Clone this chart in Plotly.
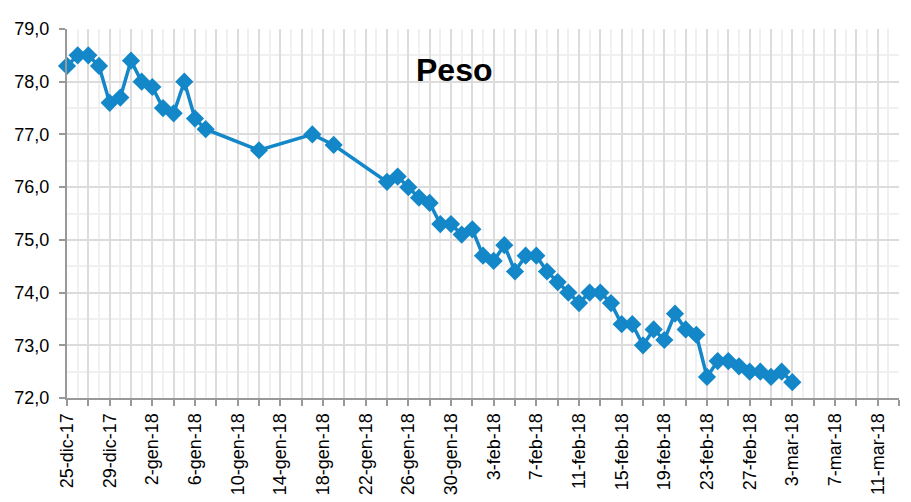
import plotly.graph_objects as go

dates = [
    "2017-12-25", "2017-12-26", "2017-12-27", "2017-12-28", "2017-12-29", "2017-12-30",
    "2017-12-31", "2018-01-01", "2018-01-02", "2018-01-03", "2018-01-04", "2018-01-05",
    "2018-01-06", "2018-01-07", "2018-01-12", "2018-01-17", "2018-01-19", "2018-01-24",
    "2018-01-25", "2018-01-26", "2018-01-27", "2018-01-28", "2018-01-29", "2018-01-30",
    "2018-01-31", "2018-02-01", "2018-02-02", "2018-02-03", "2018-02-04", "2018-02-05",
    "2018-02-06", "2018-02-07", "2018-02-08", "2018-02-09", "2018-02-10", "2018-02-11",
    "2018-02-12", "2018-02-13", "2018-02-14", "2018-02-15", "2018-02-16", "2018-02-17",
    "2018-02-18", "2018-02-19", "2018-02-20", "2018-02-21", "2018-02-22", "2018-02-23",
    "2018-02-24", "2018-02-25", "2018-02-26", "2018-02-27", "2018-02-28", "2018-03-01",
    "2018-03-02", "2018-03-03",
]
peso = [
    78.3, 78.5, 78.5, 78.3, 77.6, 77.7,
    78.4, 78.0, 77.9, 77.5, 77.4, 78.0,
    77.3, 77.1, 76.7, 77.0, 76.8, 76.1,
    76.2, 76.0, 75.8, 75.7, 75.3, 75.3,
    75.1, 75.2, 74.7, 74.6, 74.9, 74.4,
    74.7, 74.7, 74.4, 74.2, 74.0, 73.8,
    74.0, 74.0, 73.8, 73.4, 73.4, 73.0,
    73.3, 73.1, 73.6, 73.3, 73.2, 72.4,
    72.7, 72.7, 72.6, 72.5, 72.5, 72.4,
    72.5, 72.3,
]

tick_dates = [
    "2017-12-25", "2017-12-27", "2017-12-29", "2017-12-31", "2018-01-02", "2018-01-04",
    "2018-01-06", "2018-01-08", "2018-01-10", "2018-01-12", "2018-01-14", "2018-01-16",
    "2018-01-18", "2018-01-20", "2018-01-22", "2018-01-24", "2018-01-26", "2018-01-28",
    "2018-01-30", "2018-02-01", "2018-02-03", "2018-02-05", "2018-02-07", "2018-02-09",
    "2018-02-11", "2018-02-13", "2018-02-15", "2018-02-17", "2018-02-19", "2018-02-21",
    "2018-02-23", "2018-02-25", "2018-02-27", "2018-03-01", "2018-03-03", "2018-03-05",
    "2018-03-07", "2018-03-09", "2018-03-11", "2018-03-13",
]
tick_labels = [
    "25-dic-17", "", "29-dic-17", "", "2-gen-18", "",
    "6-gen-18", "", "10-gen-18", "", "14-gen-18", "",
    "18-gen-18", "", "22-gen-18", "", "26-gen-18", "",
    "30-gen-18", "", "3-feb-18", "", "7-feb-18", "",
    "11-feb-18", "", "15-feb-18", "", "19-feb-18", "",
    "23-feb-18", "", "27-feb-18", "", "3-mar-18", "",
    "7-mar-18", "", "11-mar-18", "",
]

color = "#1487c9"
font = "Liberation Sans, Arial, sans-serif"

fig = go.Figure()
fig.add_trace(go.Scatter(
    x=dates, y=peso, mode="lines+markers",
    line=dict(color=color, width=3.5),
    marker=dict(symbol="diamond", size=14, color=color),
    cliponaxis=False,
    showlegend=False,
))

fig.update_layout(
    width=911, height=502,
    margin=dict(l=67, r=12, t=29, b=104),
    paper_bgcolor="white", plot_bgcolor="white",
    separators=",.",
    font=dict(family=font, size=16, color="black"),
    annotations=[dict(
        text="<b>Peso</b>", xref="paper", yref="paper", x=0.465, y=0.888,
        showarrow=False, font=dict(size=32, family=font, color="black"),
        xanchor="center", yanchor="middle",
    )],
)

fig.update_xaxes(
    type="date", range=["2017-12-25", "2018-03-13"], automargin=False,
    tickmode="array", tickvals=tick_dates, ticktext=tick_labels,
    tickangle=-90, tickfont=dict(size=18),
    ticks="outside", ticklen=6, tickcolor="#999999", tickwidth=2,
    showline=True, linecolor="#999999", linewidth=2,
    showgrid=True, gridcolor="#dcdcdc", gridwidth=2,
    minor=dict(dtick=86400000, tick0="2017-12-25", showgrid=True,
               gridcolor="#f0f0f0", gridwidth=2, ticks=""),
    zeroline=False,
)
fig.update_yaxes(
    range=[72, 79], dtick=1, tick0=72, tickformat=".1f", automargin=False,
    tickfont=dict(size=18), ticklabelstandoff=6,
    ticks="outside", ticklen=6, tickcolor="#999999", tickwidth=2,
    showline=True, linecolor="#999999", linewidth=2,
    showgrid=True, gridcolor="#dcdcdc", gridwidth=2,
    minor=dict(dtick=0.5, showgrid=True, gridcolor="#f0f0f0", gridwidth=2, ticks=""),
    zeroline=False,
)

fig.write_html(
    "out.html",
    config={"displayModeBar": False},
    post_script="document.body.style.margin='0';document.body.style.overflow='hidden';",
)
